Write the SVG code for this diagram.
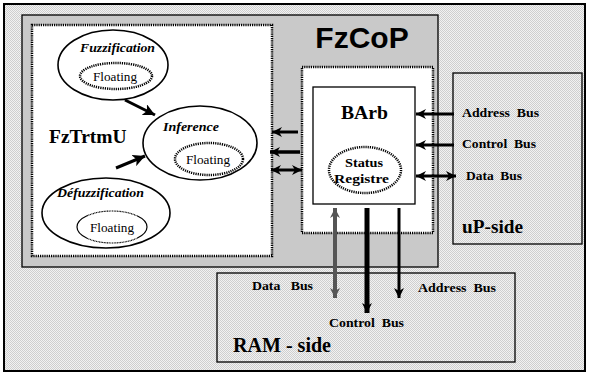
<svg xmlns="http://www.w3.org/2000/svg" width="590" height="374" viewBox="0 0 590 374">
<style>
.b{font-family:"Liberation Serif","Times New Roman",serif;font-weight:bold}
.bi{font-family:"Liberation Serif","Times New Roman",serif;font-weight:bold;font-style:italic}
.r{font-family:"Liberation Serif","Times New Roman",serif}
.bus{white-space:pre}
.box{stroke:#000;stroke-width:1.3}
.dot{fill:none;stroke:#000;stroke-width:2.5;stroke-dasharray:1.2 1}
.ell{fill:#fff;stroke:#000;stroke-width:1.6}
.ln{stroke:#000;fill:none}
</style>
<defs>
<pattern id="dp" width="2" height="2" patternUnits="userSpaceOnUse">
<rect width="2" height="2" fill="#f2f2f2"/>
<rect width="1" height="1" fill="#cfcfcf"/>
<rect x="1" y="1" width="1" height="1" fill="#cfcfcf"/>
</pattern>
<marker id="ah" markerUnits="userSpaceOnUse" markerWidth="12" markerHeight="10" refX="10" refY="5" orient="auto-start-reverse">
<path d="M0,0 L10,5 L0,10 L3,5 Z" fill="#000"/>
</marker>
<marker id="ahb" markerUnits="userSpaceOnUse" markerWidth="14" markerHeight="12" refX="12" refY="6" orient="auto-start-reverse">
<path d="M0,0 L12,6 L0,12 L3,6 Z" fill="#000"/>
</marker>
<marker id="ahg" markerUnits="userSpaceOnUse" markerWidth="12" markerHeight="10" refX="10" refY="5" orient="auto-start-reverse">
<path d="M0,0 L10,5 L0,10 L3,5 Z" fill="#555"/>
</marker>
</defs>
<g id="frame">
<rect x="4" y="4" width="581" height="367" fill="url(#dp)" stroke="#000" stroke-width="2"/>
</g>
<g id="FzCoP">
<rect x="22" y="15" width="416" height="252" fill="#c9c9c9" class="box"/>
<text x="362" y="48" text-anchor="middle" font-family="Liberation Sans, Arial, sans-serif" font-weight="bold" font-size="30">FzCoP</text>
</g>
<g id="FzTrtmU">
<rect x="32" y="25" width="240" height="231" fill="#fff"/>
<rect x="32" y="25" width="240" height="231" class="dot"/>
<text x="49" y="143" class="b" font-size="19.5">FzTrtmU</text>
</g>
<g id="Fuzzification">
<ellipse cx="113" cy="65" rx="55" ry="35" class="ell"/>
<text x="80" y="52" class="bi" font-size="13" textLength="75" lengthAdjust="spacingAndGlyphs">Fuzzification</text>
<ellipse cx="116" cy="76" rx="36" ry="13" class="dot" stroke-width="2"/>
<text x="93" y="81" class="r" font-size="13" textLength="44" lengthAdjust="spacingAndGlyphs">Floating</text>
</g>
<g id="Inference">
<ellipse cx="200" cy="143" rx="57" ry="37" class="ell"/>
<text x="163" y="131" class="bi" font-size="13" textLength="56" lengthAdjust="spacingAndGlyphs">Inference</text>
<ellipse cx="209" cy="159" rx="34" ry="16" class="dot" stroke-width="2"/>
<text x="186" y="164" class="r" font-size="13" textLength="44" lengthAdjust="spacingAndGlyphs">Floating</text>
</g>
<g id="Defuzzification">
<ellipse cx="106" cy="213" rx="64" ry="35" class="ell"/>
<text x="57" y="197" class="bi" font-size="13" textLength="87" lengthAdjust="spacingAndGlyphs">Défuzzification</text>
<path d="M87,215.8 A35,16 0 0 0 87,238.2" class="ln" stroke-width="1.2"/>
<path d="M137,215.8 A35,16 0 0 1 137,238.2" class="ln" stroke-width="1.2"/>
<path d="M87,215.8 A35,16 0 0 1 137,215.8" class="ln" stroke-width="1.2" stroke-dasharray="1 0.6"/>
<path d="M87,238.2 A35,16 0 0 0 137,238.2" class="ln" stroke-width="1.2" stroke-dasharray="1 0.6"/>
<text x="90" y="232" class="r" font-size="13" textLength="44" lengthAdjust="spacingAndGlyphs">Floating</text>
</g>
<g id="BArbZone">
<rect x="302" y="67" width="131" height="166" fill="#fff"/>
<rect x="302" y="67" width="131" height="166" class="dot"/>
</g>
<g id="BArb">
<rect x="313" y="87" width="102" height="117" fill="#fff" class="box"/>
<text x="341" y="119" class="b" font-size="18.5" textLength="47" lengthAdjust="spacingAndGlyphs">BArb</text>
<ellipse cx="365" cy="170" rx="36" ry="23" class="dot" stroke-width="2"/>
<text x="345" y="167" class="b" font-size="12" textLength="38" lengthAdjust="spacingAndGlyphs">Status</text>
<text x="334" y="183" class="b" font-size="12" textLength="55" lengthAdjust="spacingAndGlyphs">Registre</text>
</g>
<g id="uP-side">
<rect x="453" y="73" width="129" height="171" fill="url(#dp)" class="box"/>
<text x="462" y="233" class="b" font-size="19" textLength="61" lengthAdjust="spacingAndGlyphs">uP-side</text>
<text x="462" y="117" class="b bus" font-size="12" textLength="77" lengthAdjust="spacingAndGlyphs">Address  Bus</text>
<text x="462" y="148" class="b bus" font-size="12" textLength="74" lengthAdjust="spacingAndGlyphs">Control  Bus</text>
<text x="466" y="180" class="b bus" font-size="12" textLength="56" lengthAdjust="spacingAndGlyphs">Data  Bus</text>
</g>
<g id="RAM-side">
<rect x="217" y="273" width="298" height="89" fill="url(#dp)" class="box"/>
<text x="233" y="352" class="b" font-size="20" textLength="98" lengthAdjust="spacingAndGlyphs">RAM - side</text>
<text x="252" y="290" class="b bus" font-size="12" textLength="61" lengthAdjust="spacingAndGlyphs">Data   Bus</text>
<text x="418" y="292" class="b bus" font-size="12" textLength="78" lengthAdjust="spacingAndGlyphs">Address  Bus</text>
<text x="329" y="327" class="b bus" font-size="12" textLength="75" lengthAdjust="spacingAndGlyphs">Control  Bus</text>
</g>
<g id="connectors">
<line x1="125" y1="100" x2="155" y2="115" class="ln" stroke-width="3" marker-end="url(#ahb)"/>
<line x1="116" y1="168" x2="145" y2="156" class="ln" stroke-width="3" marker-end="url(#ahb)"/>
<line x1="298" y1="132" x2="272" y2="132" class="ln" stroke-width="3" marker-end="url(#ah)"/>
<line x1="300" y1="152" x2="270" y2="152" class="ln" stroke-width="3.5" marker-end="url(#ah)"/>
<line x1="271" y1="170" x2="302" y2="170" class="ln" stroke-width="3" marker-start="url(#ah)" marker-end="url(#ah)"/>
<line x1="454" y1="114" x2="416" y2="114" class="ln" stroke-width="3" marker-end="url(#ah)"/>
<line x1="454" y1="145" x2="416" y2="145" class="ln" stroke-width="3" marker-end="url(#ah)"/>
<line x1="416" y1="176" x2="456" y2="176" class="ln" stroke-width="3" marker-start="url(#ah)" marker-end="url(#ah)"/>
<line x1="335" y1="208" x2="335" y2="298" stroke="#555" stroke-width="4" marker-start="url(#ahg)" marker-end="url(#ahg)"/>
<line x1="367" y1="208" x2="367" y2="313" class="ln" stroke-width="5" marker-end="url(#ah)"/>
<line x1="399" y1="208" x2="399" y2="298" class="ln" stroke-width="3" marker-end="url(#ah)"/>
</g>
</svg>
